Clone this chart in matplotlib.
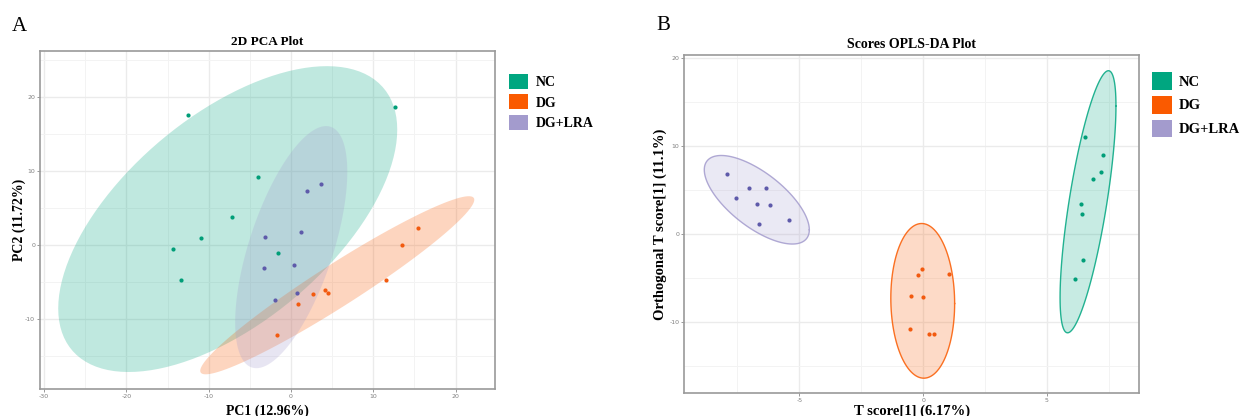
import numpy as np
import matplotlib.pyplot as plt
from matplotlib.patches import Polygon, Patch

plt.rcParams["axes.unicode_minus"] = False

groups = ["NC", "DG", "DG+LRA"]

# 2D PCA scores (panel A)
pca_nc_x = [-12.5, 12.7, -4.0, -7.2, -10.9, -14.3, -13.3, -1.6]
pca_nc_y = [17.6, 18.6, 9.1, 3.7, 0.9, -0.6, -4.8, -1.1]
pca_dg_x = [15.5, 13.5, 11.6, 4.1, 4.5, 2.7, 0.9, -1.7]
pca_dg_y = [2.3, 0.0, -4.7, -6.1, -6.5, -6.7, -8.0, -12.2]
pca_lra_x = [3.7, 1.9, 1.2, -3.2, -3.3, 0.4, 0.7, -1.9]
pca_lra_y = [8.2, 7.3, 1.7, 1.1, -3.2, -2.8, -6.5, -7.4]

# OPLS-DA scores (panel B)
opls_nc_x = [6.55, 7.28, 7.18, 6.86, 6.39, 6.43, 6.47, 6.14]
opls_nc_y = [10.98, 9.02, 7.01, 6.21, 3.41, 2.20, -2.99, -5.15]
opls_dg_x = [-0.05, -0.21, 1.04, -0.48, -0.02, -0.54, 0.24, 0.45]
opls_dg_y = [-3.98, -4.70, -4.62, -7.12, -7.20, -10.80, -11.44, -11.44]
opls_lra_x = [-7.93, -7.55, -7.04, -6.33, -6.70, -6.19, -6.62, -5.43]
opls_lra_y = [6.78, 4.02, 5.23, 5.23, 3.41, 3.26, 1.14, 1.52]

fill_cols = ["#00A680", "#FA5A00", "#A39BCD"]
point_cols = ["#009E78", "#F25A0F", "#5E5AAA"]

serif = "Liberation Serif"


def cov_trob(x, nu=5, maxit=25, tol=0.01):
    # robust t covariance, same as MASS::cov.trob used by stat_ellipse
    n, p = x.shape
    wt = np.ones(n)
    loc = x.mean(axis=0)
    w = np.sqrt(wt)
    for _ in range(maxit):
        w0 = w
        X = x - loc
        _, d, vt = np.linalg.svd(np.sqrt(w / w.sum())[:, None] * X, full_matrices=False)
        wX = X @ vt.T @ np.diag(1 / d)
        Q = (wX ** 2).sum(axis=1)
        w = wt * (nu + p) / (nu + Q)
        loc = (w[:, None] * x).sum(axis=0) / w.sum()
        if np.all(np.abs(w - w0) < tol):
            break
    sw = np.sqrt(w)[:, None] * X
    return loc, sw.T @ sw / wt.sum()


def ellipse(xs, ys, level=0.95, segments=120):
    data = np.column_stack([xs, ys])
    center, shape = cov_trob(data)
    dfd = len(xs) - 1
    fq = dfd / 2 * ((1 - level) ** (-2 / dfd) - 1)  # F quantile, dfn = 2
    radius = np.sqrt(2 * fq)
    ang = np.linspace(0, 2 * np.pi, segments + 1)
    circle = np.column_stack([np.cos(ang), np.sin(ang)])
    R = np.linalg.cholesky(shape).T
    return center + radius * circle @ R


def style_axes(ax, xlim, ylim, xmaj, xmin, ymaj, ymin):
    ax.set_xlim(xlim)
    ax.set_ylim(ylim)
    ax.set_xticks(xmaj)
    ax.set_xticks(xmin, minor=True)
    ax.set_yticks(ymaj)
    ax.set_yticks(ymin, minor=True)
    ax.grid(which="major", color="#EBEBEB", lw=1.0)
    ax.grid(which="minor", color="#F3F3F3", lw=0.7)
    ax.set_axisbelow(True)
    ax.tick_params(which="major", length=2, width=0.6, color="#888888",
                   labelsize=4.5, labelcolor="#7F7F7F", pad=1.5)
    ax.tick_params(which="minor", length=0)
    for s in ax.spines.values():
        s.set_color("#9A9A9A")
        s.set_linewidth(1.2)


fig = plt.figure(figsize=(12.45, 4.16), dpi=100)

# ---- panel A ----
axA = fig.add_axes([0.0321, 0.0649, 0.3655, 0.8125])
style_axes(axA, (-30.5, 24.8), (-19.5, 26.2),
           [-30, -20, -10, 0, 10, 20], [-25, -15, -5, 5, 15],
           [-10, 0, 10, 20], [-15, -5, 5, 15, 25])
pca = [(pca_nc_x, pca_nc_y), (pca_dg_x, pca_dg_y), (pca_lra_x, pca_lra_y)]
for (xs, ys), fc in zip(pca, fill_cols):
    axA.add_patch(Polygon(ellipse(xs, ys), closed=True, facecolor=fc,
                          alpha=0.25, edgecolor="none"))
for (xs, ys), pc in zip(pca, point_cols):
    axA.scatter(xs, ys, s=9, color=pc, zorder=3, linewidths=0)
axA.set_title("2D PCA Plot", fontfamily=serif, fontweight="bold", fontsize=9.5, pad=4)
axA.set_xlabel("PC1 (12.96%)", fontfamily=serif, fontweight="bold", fontsize=10)
axA.set_ylabel("PC2 (11.72%)", fontfamily=serif, fontweight="bold", fontsize=10)
axA.xaxis.set_label_coords(0.5, -0.047)
axA.yaxis.set_label_coords(-0.030, 0.5)

# ---- panel B ----
axB = fig.add_axes([0.5496, 0.056, 0.3652, 0.811])
style_axes(axB, (-9.65, 8.72), (-18.07, 20.3),
           [-5, 0, 5], [-7.5, -2.5, 2.5, 7.5],
           [-10, 0, 10, 20], [-15, -5, 5, 15])
opls = [(opls_nc_x, opls_nc_y), (opls_dg_x, opls_dg_y), (opls_lra_x, opls_lra_y)]
for (xs, ys), fc in zip(opls, fill_cols):
    pts = ellipse(xs, ys)
    axB.add_patch(Polygon(pts, closed=True, facecolor=fc, alpha=0.22, edgecolor="none"))
    axB.plot(pts[:, 0], pts[:, 1], color=fc, lw=1.0, alpha=0.85)
for (xs, ys), pc in zip(opls, point_cols):
    axB.scatter(xs, ys, s=9, color=pc, zorder=3, linewidths=0)
axB.set_title("Scores OPLS-DA Plot", fontfamily=serif, fontweight="bold", fontsize=10, pad=5.5)
axB.set_xlabel("T score[1] (6.17%)", fontfamily=serif, fontweight="bold", fontsize=10.5)
axB.set_ylabel("Orthogonal T score[1] (11.1%)", fontfamily=serif, fontweight="bold", fontsize=10.5)
axB.xaxis.set_label_coords(0.5, -0.036)
axB.yaxis.set_label_coords(-0.0385, 0.5)

# ---- legends ----
handles = [Patch(facecolor=c, edgecolor="none") for c in fill_cols]
fig.legend(handles, groups, loc="upper left", bbox_to_anchor=(509 / 1245, 1 - 74 / 416),
           frameon=False, prop={"family": serif, "weight": "bold", "size": 10},
           handlelength=1.37, handleheight=1.31, handletextpad=0.55,
           labelspacing=0.36, borderpad=0, borderaxespad=0)
fig.legend(handles, groups, loc="upper left", bbox_to_anchor=(1152 / 1245, 1 - 72 / 416),
           frameon=False, prop={"family": serif, "weight": "bold", "size": 10.5},
           handlelength=1.35, handleheight=1.5, handletextpad=0.5,
           labelspacing=0.41, borderpad=0, borderaxespad=0)

# panel letters
fig.text(12 / 1245, 1 - 31 / 416, "A", fontfamily=serif, fontsize=15)
fig.text(656 / 1245, 1 - 30 / 416, "B", fontfamily=serif, fontsize=15)

fig.savefig("out.png", dpi=100, facecolor="white")
